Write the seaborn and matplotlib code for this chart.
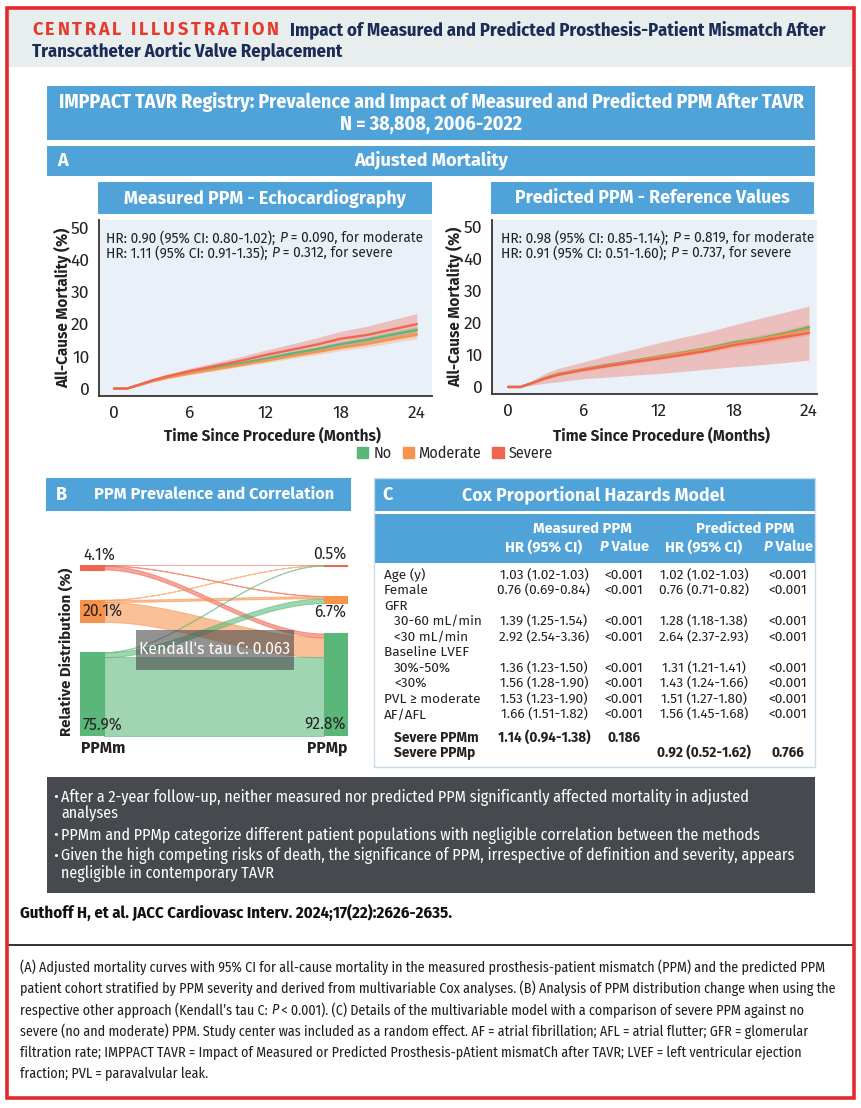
import matplotlib
matplotlib.use("Agg")
import numpy as np
import pandas as pd
import matplotlib.pyplot as plt
import seaborn as sns
from matplotlib import font_manager as fm
from matplotlib.patches import Rectangle, Patch

sns.set_theme(style="white")
_names = {f.name for f in fm.fontManager.ttflist}
_sans = next((n for n in ["Fira Sans", "Open Sans"] if n in _names), "DejaVu Sans")
_cond = next((n for n in ["Fira Sans Condensed", "Roboto Condensed", "Open Sans Condensed",
                          "Liberation Sans Narrow", "Arial Narrow"] if n in _names), None)
SANS = [_sans, "DejaVu Sans"]
NARROW = [_cond, "DejaVu Sans"] if _cond else ["DejaVu Sans"]
NSTRETCH = "normal" if _cond else "condensed"
plt.rcParams["font.family"] = SANS

# ------------------------------------------------------------------ data
grades = ["No", "Moderate", "Severe"]
months = [0, 1, 2, 3, 4, 6, 8, 10, 12, 14, 16, 18, 20, 22, 24]

# Measured PPM (echocardiography) adjusted mortality (%)
m_no = [0, 0, 1.2, 2.4, 3.4, 5.0, 6.4, 7.8, 9.3, 10.8, 12.2, 13.8, 15.1, 16.7, 18.2]
m_no_lo = [0, 0, 1.0, 2.1, 3.1, 4.6, 5.9, 7.3, 8.7, 10.1, 11.5, 13.0, 14.2, 15.7, 17.1]
m_no_hi = [0, 0, 1.4, 2.7, 3.7, 5.4, 6.9, 8.3, 9.9, 11.5, 12.9, 14.6, 16.0, 17.7, 19.3]
m_mod = [0, 0, 1.1, 2.3, 3.2, 4.7, 6.0, 7.3, 8.6, 10.0, 11.3, 12.7, 13.8, 15.3, 16.7]
m_mod_lo = [0, 0, 0.9, 2.0, 2.9, 4.3, 5.5, 6.8, 8.0, 9.3, 10.5, 11.8, 12.8, 14.2, 15.5]
m_mod_hi = [0, 0, 1.3, 2.6, 3.5, 5.1, 6.5, 7.8, 9.2, 10.7, 12.1, 13.6, 14.8, 16.4, 17.9]
m_sev = [0, 0, 1.2, 2.5, 3.6, 5.4, 7.0, 8.6, 10.4, 12.0, 13.6, 15.5, 16.6, 18.3, 20.0]
m_sev_lo = [0, 0, 0.9, 2.0, 3.0, 4.6, 5.9, 7.3, 8.8, 10.2, 11.6, 13.2, 14.0, 15.2, 16.5]
m_sev_hi = [0, 0, 1.6, 3.0, 4.3, 6.3, 8.1, 9.9, 11.9, 13.8, 15.7, 17.8, 19.3, 21.3, 23.3]

# Predicted PPM (reference values) adjusted mortality (%)
p_no = [0, 0, 1.4, 2.9, 4.1, 5.6, 7.0, 8.2, 9.5, 10.8, 12.2, 13.9, 15.1, 16.7, 18.7]
p_no_lo = [0, 0, 1.3, 2.7, 3.9, 5.3, 6.7, 7.9, 9.1, 10.4, 11.8, 13.4, 14.6, 16.1, 18.1]
p_no_hi = [0, 0, 1.5, 3.1, 4.3, 5.9, 7.3, 8.5, 9.9, 11.2, 12.6, 14.4, 15.6, 17.3, 19.3]
p_mod = [0, 0, 1.4, 2.8, 4.0, 5.5, 6.8, 8.0, 9.3, 10.6, 11.9, 13.5, 14.8, 16.3, 17.9]
p_mod_lo = [0, 0, 1.1, 2.4, 3.5, 4.9, 6.1, 7.2, 8.4, 9.6, 10.8, 12.3, 13.4, 14.8, 16.2]
p_mod_hi = [0, 0, 1.7, 3.2, 4.5, 6.1, 7.5, 8.8, 10.2, 11.6, 13.0, 14.7, 16.2, 17.8, 19.6]
p_sev = [0, 0, 1.3, 2.7, 3.8, 5.3, 6.6, 7.8, 8.9, 10.1, 11.4, 13.1, 14.3, 15.6, 16.9]
p_sev_lo = [0, 0, 0.6, 1.2, 1.6, 2.6, 3.1, 3.7, 4.2, 4.9, 5.6, 6.3, 6.9, 7.6, 8.4]
p_sev_hi = [0, 0, 2.2, 4.3, 5.8, 7.8, 9.9, 11.8, 13.8, 15.6, 17.3, 19.4, 21.4, 23.3, 25.3]

hr_measured = ["HR: 0.90 (95% CI: 0.80-1.02); ", "P", " = 0.090, for moderate",
               "HR: 1.11 (95% CI: 0.91-1.35); ", "P", " = 0.312, for severe"]
hr_predicted = ["HR: 0.98 (95% CI: 0.85-1.14); ", "P", " = 0.819, for moderate",
                "HR: 0.91 (95% CI: 0.51-1.60); ", "P", " = 0.737, for severe"]
x_ticks = [0, 6, 12, 18, 24]
y_ticks = [0, 10, 20, 30, 40, 50]

# PPM reclassification (% of cohort): rows = PPMm (severe, moderate, no), cols = PPMp
sankey_levels = ["Severe", "Moderate", "No"]
flow_from_severe = [0.2, 0.4, 3.5]
flow_from_moderate = [0.1, 1.9, 18.1]
flow_from_no = [0.2, 4.4, 71.2]
ppmm_labels = ["4.1%", "20.1%", "75.9%"]
ppmp_labels = ["0.5%", "6.7%", "92.8%"]
kendall_text = "Kendall's tau C: 0.063"

# Cox table
row_labels = ["Age (y)", "Female", "GFR", "30-60 mL/min", "<30 mL/min", "Baseline LVEF",
              "30%-50%", "<30%", "PVL \u2265 moderate", "AF/AFL"]
sub_rows = {"30-60 mL/min", "<30 mL/min", "30%-50%", "<30%"}
meas_hr = ["1.03 (1.02-1.03)", "0.76 (0.69-0.84)", "", "1.39 (1.25-1.54)", "2.92 (2.54-3.36)", "",
           "1.36 (1.23-1.50)", "1.56 (1.28-1.90)", "1.53 (1.23-1.90)", "1.66 (1.51-1.82)"]
meas_p = ["<0.001", "<0.001", "", "<0.001", "<0.001", "", "<0.001", "<0.001", "<0.001", "<0.001"]
pred_hr = ["1.02 (1.02-1.03)", "0.76 (0.71-0.82)", "", "1.28 (1.18-1.38)", "2.64 (2.37-2.93)", "",
           "1.31 (1.21-1.41)", "1.43 (1.24-1.66)", "1.51 (1.27-1.80)", "1.56 (1.45-1.68)"]
pred_p = ["<0.001", "<0.001", "", "<0.001", "<0.001", "", "<0.001", "<0.001", "<0.001", "<0.001"]
severe_rows = ["Severe PPMm", "Severe PPMp"]
severe_meas = ["1.14 (0.94-1.38)", "0.186"]
severe_pred = ["0.92 (0.52-1.62)", "0.766"]

bullets = [
    ["After a 2-year follow-up, neither measured nor predicted PPM significantly affected mortality in adjusted",
     "analyses"],
    ["PPMm and PPMp categorize different patient populations with negligible correlation between the methods"],
    ["Given the high competing risks of death, the significance of PPM, irrespective of definition and severity, appears",
     "negligible in contemporary TAVR"],
]
citation = "Guthoff H, et al. JACC Cardiovasc Interv. 2024;17(22):2626-2635."
caption = [
    ["(A) Adjusted mortality curves with 95% CI for all-cause mortality in the measured prosthesis-patient mismatch (PPM) and the predicted PPM"],
    ["patient cohort stratified by PPM severity and derived from multivariable Cox analyses. (B) Analysis of PPM distribution change when using the"],
    ["respective other approach (Kendall\u2019s tau C: ", "P", " < 0.001). (C) Details of the multivariable model with a comparison of severe PPM against no"],
    ["severe (no and moderate) PPM. Study center was included as a random effect. AF = atrial fibrillation; AFL = atrial flutter; GFR = glomerular"],
    ["filtration rate; IMPPACT TAVR = Impact of Measured or Predicted Prosthesis-pAtient mismatCh after TAVR; LVEF = left ventricular ejection"],
    ["fraction; PVL = paravalvular leak."],
]

# ------------------------------------------------------------------ style
BLUE = "#4fa3d9"
GREEN, ORANGE, RED = "#5bb779", "#f7934c", "#f0654f"
palette = {"No": GREEN, "Moderate": ORANGE, "Severe": RED}
NAVY = "#1b2c57"
DARK = "#222222"
NK = dict(family=NARROW, fontstretch=NSTRETCH)

W, H = 862, 1108
fig = plt.figure(figsize=(W / 100, H / 100), dpi=100)
fig.patch.set_facecolor("white")
renderer = fig.canvas.get_renderer()


def px(x0, y0, x1, y1):
    return [x0 / W, 1 - y1 / H, (x1 - x0) / W, (y1 - y0) / H]


def pixel_axes(zorder=0):
    a = fig.add_axes([0, 0, 1, 1], zorder=zorder)
    a.set_xlim(0, W)
    a.set_ylim(H, 0)
    a.axis("off")
    a.patch.set_alpha(0)
    return a


def box(a, x0, y0, x1, y1, **kw):
    a.add_patch(Rectangle((x0, y0), x1 - x0, y1 - y0, **kw))


def rich(a, x, y, parts, ha="left", track=0.0, **kw):
    """parts: list of (text, extra style) drawn side by side."""
    texts, widths = [], []
    for s, st in parts:
        t = a.text(0, y, s, va="center", ha="left", **{**kw, **st})
        widths.append(t.get_window_extent(renderer=renderer).width + track)
        texts.append(t)
    tot = sum(widths)
    x0 = x if ha == "left" else (x - tot / 2 if ha == "center" else x - tot)
    for t, w in zip(texts, widths):
        t.set_x(x0)
        x0 += w
    return x0


bg = pixel_axes(0)

# header
box(bg, 9, 10, 852, 67, fc="#e8eded", lw=0)
rich(bg, 32, 30, [(c, {}) for c in "CENTRAL ILLUSTRATION"], track=2.8,
     color="#e63a2e", fontsize=13, weight="bold")
bg.text(290, 30, "Impact of Measured and Predicted Prosthesis-Patient Mismatch After",
        color=NAVY, fontsize=13.4, weight="bold", va="center", **NK)
bg.text(32, 51, "Transcatheter Aortic Valve Replacement", color=NAVY,
        fontsize=13.4, weight="bold", va="center", **NK)

box(bg, 47, 86, 815, 140, fc=BLUE, lw=0)
bg.text(431, 102, "IMPPACT TAVR Registry: Prevalence and Impact of Measured and Predicted PPM After TAVR",
        color="white", fontsize=14.3, weight="bold", ha="center", va="center", **NK)
bg.text(431, 124, "N = 38,808, 2006-2022", color="white", fontsize=14.3,
        weight="bold", ha="center", va="center", **NK)

box(bg, 47, 146, 815, 176, fc=BLUE, lw=0)
bg.text(57, 161, "A", color="white", fontsize=13, weight="bold", va="center")
bg.text(431, 161, "Adjusted Mortality", color="white", fontsize=13, weight="bold", ha="center", va="center")

box(bg, 98, 182, 432, 214, fc=BLUE, lw=0)
bg.text(265, 198, "Measured PPM - Echocardiography", color="white", fontsize=12.8, weight="bold",
        ha="center", va="center")
box(bg, 491, 182, 814, 214, fc=BLUE, lw=0)
bg.text(652, 198, "Predicted PPM - Reference Values", color="white", fontsize=12.8, weight="bold",
        ha="center", va="center")

# ------------------------------------------------------------------ KM panels
def km_frame(est):
    rows = []
    for g, vals in zip(grades, est):
        for m, v in zip(months, vals):
            rows.append(dict(month=m, mort=v, grade=g))
    return pd.DataFrame(rows)


def km_panel(rect, xlim, ylim, est, lo, hi, ylab_x, xlab_y):
    ax = fig.add_axes(px(*rect), zorder=1)
    ax.set_facecolor("#e9f0f8")
    for g, l, h in zip(grades, lo, hi):
        ax.fill_between(months, l, h, color=palette[g], alpha=0.35 if g == "Severe" else 0.3, lw=0)
    sns.lineplot(data=km_frame(est), x="month", y="mort", hue="grade", hue_order=grades,
                 palette=palette, linewidth=1.7, legend=False, ax=ax)
    ax.set_xlim(*xlim)
    ax.set_ylim(*ylim)
    ax.set_xticks(x_ticks)
    ax.set_yticks(y_ticks)
    for s in ["top", "right"]:
        ax.spines[s].set_visible(False)
    for s in ["left", "bottom"]:
        ax.spines[s].set_color("#333333")
        ax.spines[s].set_linewidth(1.3)
    ax.tick_params(axis="y", length=4, width=1.2, color="#333333", pad=3, labelsize=12.5, labelcolor=DARK)
    ax.tick_params(axis="x", length=0, pad=7, labelsize=12.5, labelcolor=DARK)
    ax.set_xlabel("Time Since Procedure (Months)", fontsize=11, weight="bold", color=DARK)
    ax.set_ylabel("All-Cause Mortality (%)", fontsize=11, weight="bold", color=DARK)
    ax.yaxis.set_label_coords(ylab_x, 0.5)
    ax.xaxis.set_label_coords(0.52, xlab_y)
    return ax


km_panel((99, 220, 432, 396), (-1.2, 25.2), (-2.3, 52.3),
         [m_no, m_mod, m_sev], [m_no_lo, m_mod_lo, m_sev_lo], [m_no_hi, m_mod_hi, m_sev_hi], -0.08, -0.175)
km_panel((492, 220, 817, 394), (-1.28, 24.64), (-2.2, 52.2),
         [p_no, p_mod, p_sev], [p_no_lo, p_mod_lo, p_sev_lo], [p_no_hi, p_mod_hi, p_sev_hi], -0.086, -0.19)

handles = [Patch(color=palette[g]) for g in grades]
fig.legend(handles, grades, loc="center", bbox_to_anchor=(455 / W, 1 - 453 / H), ncol=3,
           frameon=False, handlelength=0.7, handleheight=0.7, handletextpad=0.3,
           columnspacing=0.7, prop=fm.FontProperties(family=NARROW, stretch=NSTRETCH, size=11.5))

# ------------------------------------------------------------------ panel B
box(bg, 46, 478, 351, 511, fc=BLUE, lw=0)
bg.text(56, 494.5, "B", color="white", fontsize=13, weight="bold", va="center")
bg.text(214, 494.5, "PPM Prevalence and Correlation", color="white", fontsize=11.8, weight="bold",
        ha="center", va="center")

flows = np.array([flow_from_severe, flow_from_moderate, flow_from_no])
node_colors = [RED, ORANGE, GREEN]
sk = fig.add_axes(px(79.5, 565, 348, 735.6), zorder=1)
sk.axis("off")
gap = 27.5
left_tot = flows.sum(axis=1)
right_tot = flows.sum(axis=0)
total = max(left_tot.sum(), right_tot.sum()) + 2 * gap
bw = 24 / 268.5
sk.set_xlim(0, 1)
sk.set_ylim(total, 0)


def node_starts(tots):
    out, c = [], 0.0
    for t in tots:
        out.append(c)
        c += t + gap
    return out


ls, rs = node_starts(left_tot), node_starts(right_tot)
loff, roff = list(ls), list(rs)
xs = np.linspace(bw, 1 - bw, 120)
tt = (xs - bw) / (1 - 2 * bw)
smooth = tt * tt * (3 - 2 * tt)
for i in range(3):
    for j in range(3):
        v = flows[i, j]
        y0, y1 = loff[i], roff[j]
        loff[i] += v
        roff[j] += v
        top_edge = y0 + (y1 - y0) * smooth
        sk.fill_between(xs, top_edge, top_edge + v, color=node_colors[i], alpha=0.58, lw=0.7,
                        edgecolor=node_colors[i])
sk.bar([bw / 2] * 3, left_tot, bottom=ls, width=bw, color=node_colors, lw=0.8, edgecolor=node_colors)
sk.bar([1 - bw / 2] * 3, right_tot, bottom=rs, width=bw, color=node_colors, lw=0.8, edgecolor=node_colors)

top = pixel_axes(5)
for lab, y in zip(ppmm_labels, [555, 611, 725]):
    top.text(83, y, lab, fontsize=11.3, color=DARK, va="center", ha="left")
for lab, y in zip(ppmp_labels, [554, 612, 724]):
    top.text(346, y, lab, fontsize=11.3, color=DARK, va="center", ha="right")
box(top, 136, 630, 294, 670, fc="#4a4a4a", alpha=0.6, lw=0)
top.text(215, 649, kendall_text, color="white", fontsize=11.3, ha="center", va="center")
top.text(66, 652, "Relative Distribution (%)", rotation=90, fontsize=10.8, weight="bold",
         color=DARK, ha="center", va="center")
top.text(81, 748, "PPMm", fontsize=11.3, weight="bold", color=DARK, va="center")
top.text(347, 748, "PPMp", fontsize=11.3, weight="bold", color=DARK, va="center", ha="right")

# HR annotations
for x0, parts in [(106, hr_measured), (501, hr_predicted)]:
    for k, y in enumerate([238, 253]):
        a, p, b = parts[3 * k:3 * k + 3]
        rich(top, x0, y, [(a, {}), (p, dict(style="italic")), (b, {})], fontsize=9.9, color=DARK)

# ------------------------------------------------------------------ panel C
box(bg, 374, 478, 816, 511, fc=BLUE, lw=0)
bg.text(382, 494.5, "C", color="white", fontsize=13, weight="bold", va="center")
bg.text(593, 494.5, "Cox Proportional Hazards Model", color="white", fontsize=12.8, weight="bold",
        ha="center", va="center")
box(bg, 374, 513.5, 816, 562.6, fc=BLUE, lw=0)
box(bg, 374.5, 478, 815.5, 767, fill=False, ec="#c9dcea", lw=1)

cx = [544, 624, 704, 788]
hdr = dict(color="white", fontsize=10.6, weight="bold")
bg.text(582, 529, "Measured PPM", ha="center", va="center", **hdr)
bg.text(745, 529, "Predicted PPM", ha="center", va="center", **hdr)
for k in range(2):
    bg.text(cx[2 * k], 547, "HR (95% CI)", ha="center", va="center", **hdr)
    rich(bg, cx[2 * k + 1], 547, [("P", dict(style="italic")), (" Value", {})], ha="center", **hdr)

body = dict(fontsize=9.8, color=DARK, va="center")
for i, lab in enumerate(row_labels):
    y = 575 + 15.5 * i
    bg.text(394 if lab in sub_rows else 384, y, lab, ha="left", **body)
    for c, col in zip(cx, [meas_hr, meas_p, pred_hr, pred_p]):
        bg.text(c, y, col[i], ha="center", **body)
bg.text(394, 737.5, severe_rows[0], ha="left", weight="bold", **body)
bg.text(394, 752.6, severe_rows[1], ha="left", weight="bold", **body)
bg.text(cx[0], 737.5, severe_meas[0], ha="center", weight="bold", **body)
bg.text(cx[1], 737.5, severe_meas[1], ha="center", weight="bold", **body)
bg.text(cx[2], 752.6, severe_pred[0], ha="center", weight="bold", **body)
bg.text(cx[3], 752.6, severe_pred[1], ha="center", weight="bold", **body)

# ------------------------------------------------------------------ bullets, citation, caption
box(bg, 47, 777, 815, 893, fc="#46494e", lw=0)
ys = iter([797, 814, 835, 856, 873])
for b in bullets:
    for k, line in enumerate(b):
        y = next(ys)
        if k == 0:
            bg.text(53, y, "\u2022", color="white", fontsize=11.5, va="center", **NK)
        bg.text(61, y, line, color="white", fontsize=11.5, va="center", **NK)

bg.text(20, 913, citation, color="#111111", fontsize=12, weight="bold", va="center", **NK)
bg.plot([8, 853], [945, 945], color="#222222", lw=1.3)
for k, line in enumerate(caption):
    y = 967 + 21.4 * k
    if len(line) == 1:
        bg.text(20, y, line[0], color="#1e1e1e", fontsize=10.1, va="center", **NK)
    else:
        rich(bg, 20, y, [(line[0], {}), (line[1], dict(style="italic")), (line[2], {})],
             color="#1e1e1e", fontsize=10.1, **NK)

box(top, 7, 8, 854, 1098, fill=False, ec="#e3292b", lw=2.6)

fig.savefig("out.png", dpi=100)
